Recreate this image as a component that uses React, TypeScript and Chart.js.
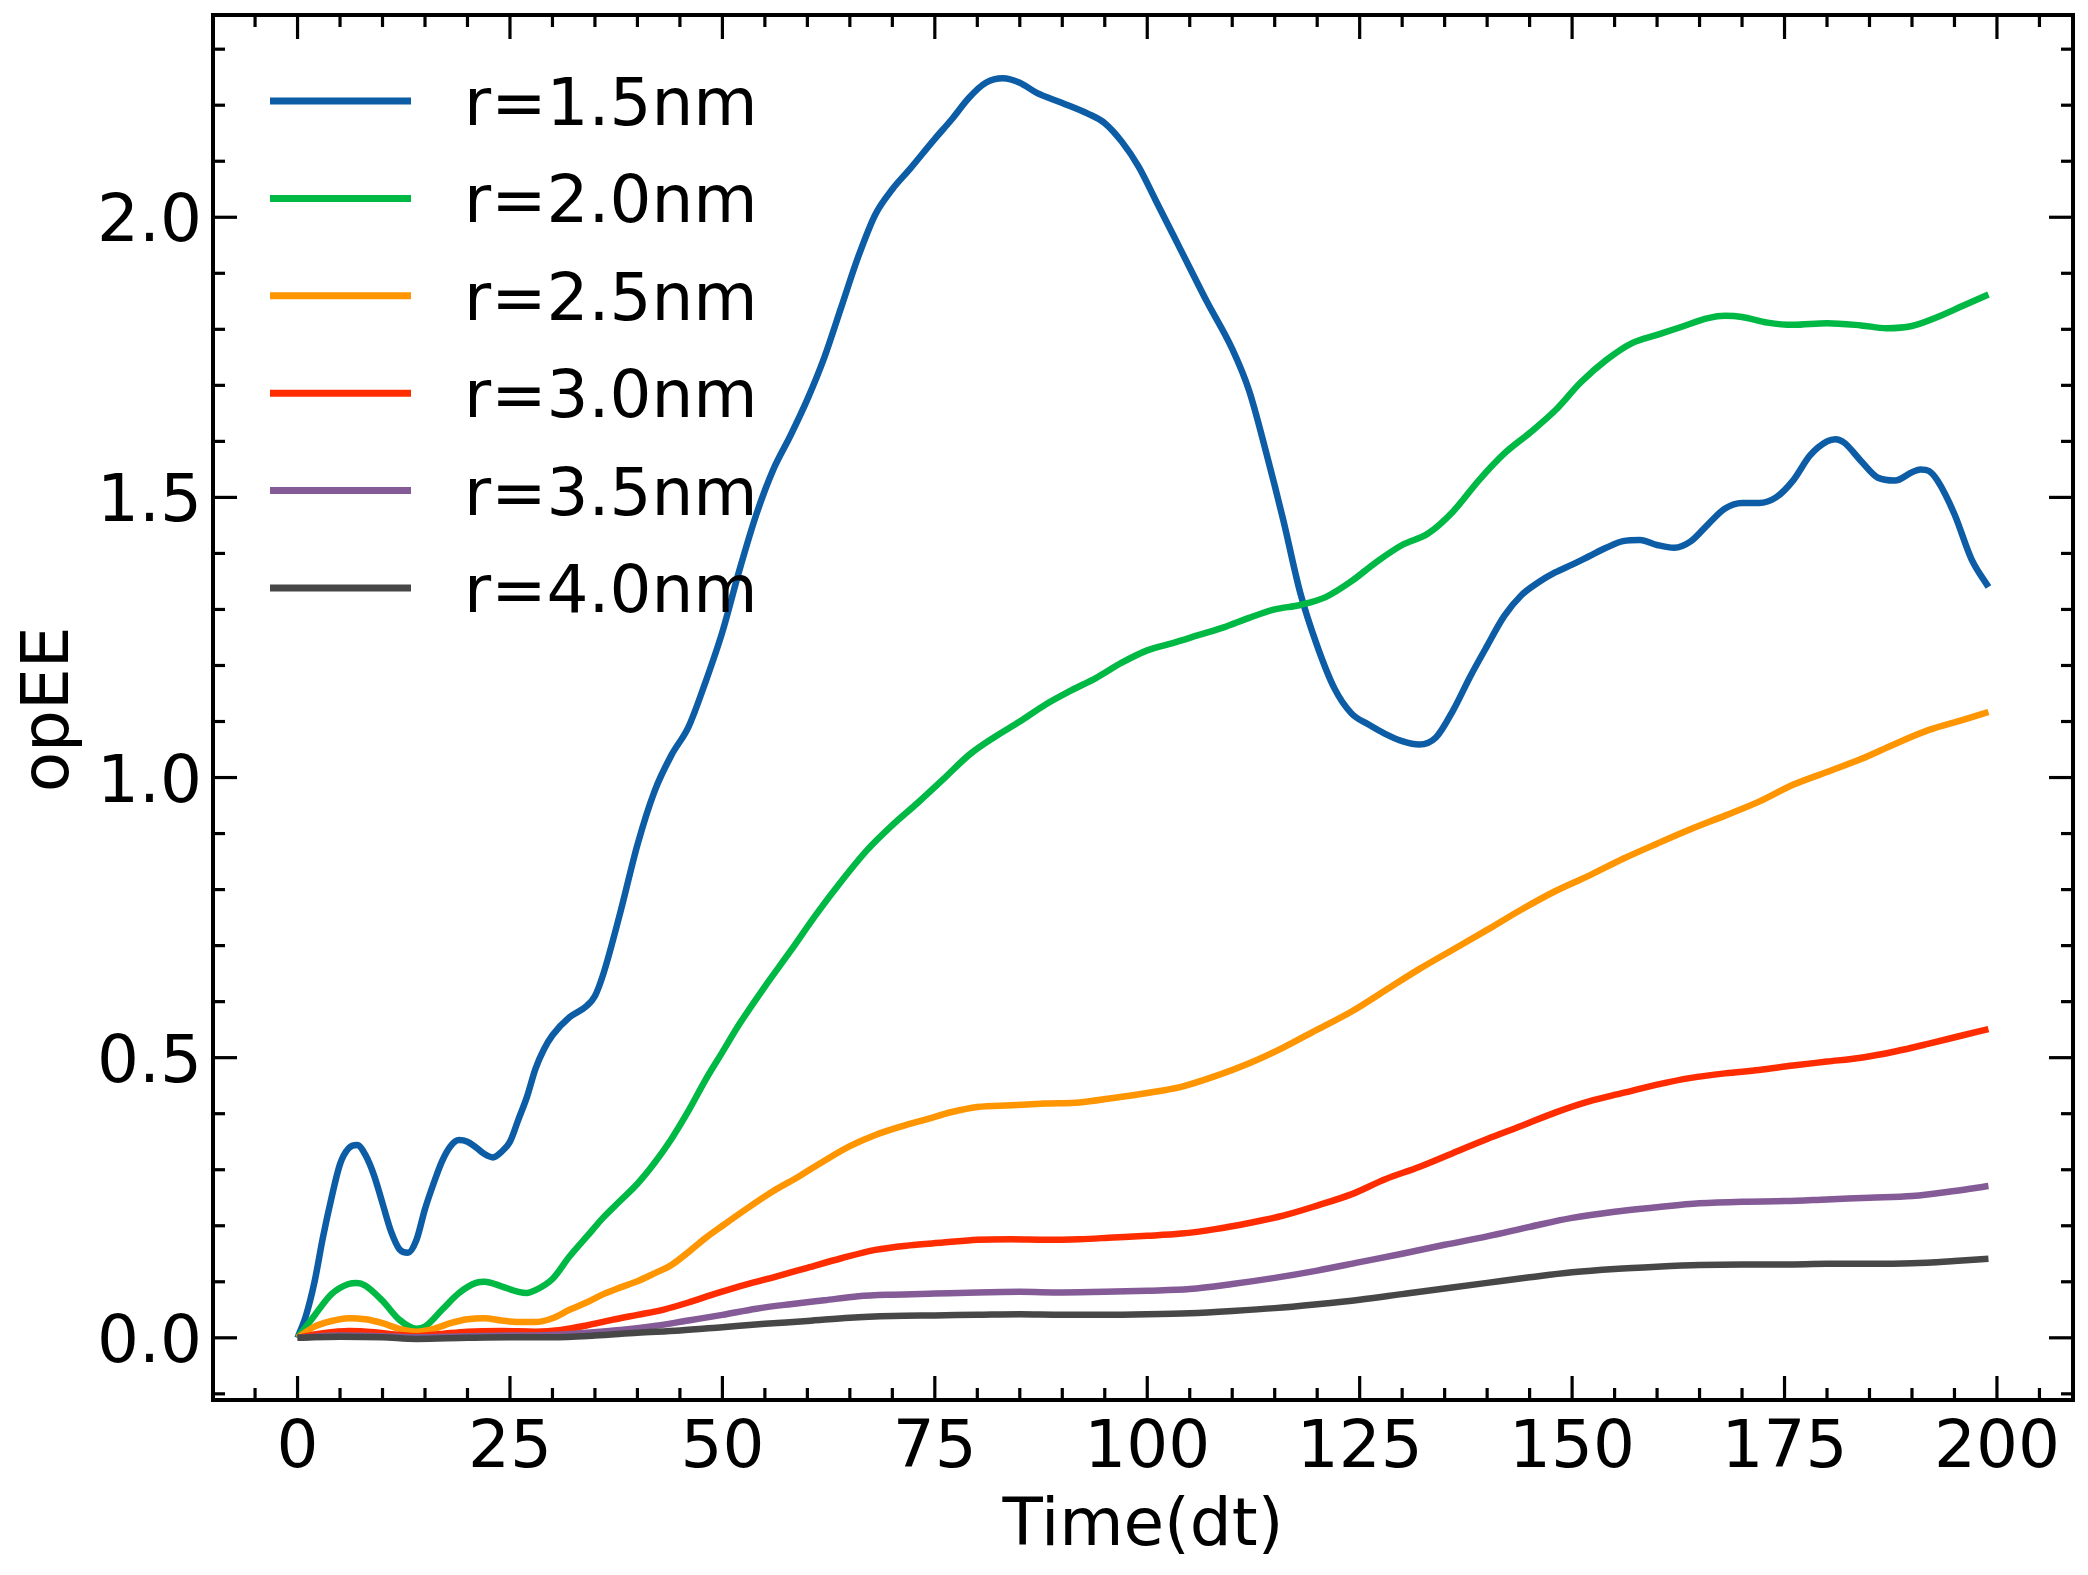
import React, { useEffect, useRef } from "react";
import { Chart, registerables } from "chart.js";

Chart.register(...registerables);

// ---------------- data ----------------
const seriesLabels = ["r=1.5nm", "r=2.0nm", "r=2.5nm", "r=3.0nm", "r=3.5nm", "r=4.0nm"];
const seriesColors = ["#0C5DA5", "#00B945", "#FF9500", "#FF2C00", "#845B97", "#474747"];

const timeR15 = [
  0, 1, 2, 3, 4, 5, 6, 7, 8, 9, 10, 11, 12, 13, 14, 15, 16, 17, 18, 19, 20, 21, 22, 23, 24, 25, 26, 27, 28, 29, 30,
  32, 34, 35, 36, 38, 40, 42, 44, 46, 48, 50, 52, 54, 56, 58, 60, 62, 64, 66, 68, 70, 72, 75, 77, 79, 81, 83, 85,
  87, 90, 93, 95, 97, 99, 101, 103, 105, 107, 110, 112, 114, 116, 118, 120, 122, 124, 126, 128, 130, 132, 134,
  136, 138, 140, 142, 144, 146, 148, 150, 152, 154, 156, 158, 160, 162, 164, 166, 168, 170, 172, 174, 176, 178,
  180, 181, 182, 184, 186, 188, 190, 191, 192, 193, 195, 197, 199,
];
const opeeR15 = [
  0, 0.04, 0.1, 0.18, 0.25, 0.31, 0.338, 0.344, 0.326, 0.29, 0.24, 0.19, 0.158, 0.152, 0.175, 0.23, 0.275, 0.315,
  0.342, 0.353, 0.35, 0.34, 0.328, 0.322, 0.332, 0.35, 0.39, 0.43, 0.48, 0.515, 0.54,
  0.572, 0.592, 0.61, 0.65, 0.76, 0.88, 0.975, 1.04, 1.09, 1.17, 1.26, 1.37, 1.47, 1.55, 1.61, 1.675, 1.75, 1.84,
  1.93, 2.005, 2.05, 2.085, 2.14, 2.175, 2.213, 2.24, 2.248, 2.24,
  2.222, 2.204, 2.185, 2.168, 2.135, 2.09, 2.03, 1.97, 1.91, 1.85, 1.765, 1.69, 1.58, 1.46, 1.33, 1.235, 1.16,
  1.115, 1.095, 1.078, 1.065, 1.059, 1.072,
  1.12, 1.18, 1.235, 1.288, 1.325, 1.348, 1.366, 1.38, 1.395, 1.41, 1.422, 1.424, 1.415, 1.41, 1.422, 1.452,
  1.48, 1.49, 1.49, 1.5, 1.53, 1.575,
  1.6, 1.604, 1.598, 1.565, 1.535, 1.53, 1.545, 1.55, 1.547, 1.53, 1.47, 1.39, 1.34,
];

const timeR20 = [
  0, 2, 4, 6, 7, 8, 10, 12, 14, 15, 17, 19, 21, 22, 24, 26, 27, 28, 30, 32, 34, 36, 38, 40, 42, 44, 46, 48, 50,
  52, 55, 58, 61, 64, 67, 70, 73, 76, 79, 82, 85, 88, 91, 94, 97, 100, 103, 106, 109, 112, 115, 118, 121, 124,
  127, 130, 133, 136, 139, 142, 145, 148, 151, 154, 157, 160, 163, 166, 168, 170, 173, 176, 180, 184, 187, 190,
  193, 196, 199,
];
const opeeR20 = [
  0, 0.04, 0.078, 0.096, 0.098, 0.093, 0.066, 0.032, 0.016, 0.02, 0.05, 0.08, 0.098, 0.1, 0.092, 0.082, 0.08,
  0.085, 0.105, 0.145, 0.18, 0.215, 0.245, 0.275, 0.312, 0.355, 0.405, 0.46, 0.51,
  0.56, 0.627, 0.69, 0.755, 0.815, 0.87, 0.915, 0.955, 0.997, 1.04, 1.072, 1.1, 1.13, 1.155, 1.178, 1.205, 1.227,
  1.24, 1.254, 1.268, 1.285, 1.3, 1.308, 1.322, 1.35,
  1.385, 1.415, 1.435, 1.475, 1.53, 1.578, 1.615, 1.655, 1.705, 1.745, 1.775, 1.79, 1.805, 1.82, 1.824, 1.822,
  1.812, 1.808, 1.811, 1.807, 1.802, 1.806,
  1.822, 1.842, 1.862,
];

const timeR25 = [
  0, 2, 4, 6, 8, 10, 12, 14, 16, 18, 20, 22, 24, 26, 28, 30, 32, 34, 36, 38, 40, 42, 44, 46, 48, 50, 53, 56, 59,
  62, 65, 68, 71, 74, 77, 80, 84, 88, 92, 96, 100, 104, 108, 112, 116, 120, 124, 128, 132, 136, 140, 144, 148,
  152, 156, 160, 164, 168, 172, 176, 180, 184, 188, 192, 196, 199,
];
const opeeR25 = [
  0, 0.02, 0.03, 0.035, 0.033, 0.026, 0.016, 0.011, 0.016, 0.026, 0.033, 0.035, 0.031, 0.028, 0.028, 0.035, 0.05,
  0.063, 0.078, 0.09, 0.101, 0.115, 0.13, 0.153, 0.178, 0.2, 0.232, 0.262, 0.288,
  0.316, 0.342, 0.362, 0.377, 0.39, 0.403, 0.412, 0.415, 0.418, 0.42, 0.428, 0.437, 0.448, 0.467, 0.49, 0.518,
  0.55, 0.582, 0.62, 0.658, 0.693, 0.728, 0.764, 0.797,
  0.825, 0.855, 0.882, 0.908, 0.932, 0.957, 0.987, 1.01, 1.033, 1.06, 1.085, 1.103, 1.117,
];

const timeR30 = [
  0, 3, 6, 9, 12, 14, 17, 20, 24, 28, 31, 34, 37, 40, 43, 46, 49, 52, 56, 60, 64, 68, 72, 76, 80, 84, 88, 92, 96,
  100, 104, 108, 112, 116, 120, 124, 128, 132, 136, 140, 144, 148, 152, 156, 160, 164, 168, 172, 176, 180, 184,
  188, 192, 196, 199,
];
const opeeR30 = [
  0, 0.008, 0.012, 0.01, 0.005, 0.003, 0.007, 0.011, 0.012, 0.011, 0.014, 0.022, 0.032, 0.041, 0.05, 0.063,
  0.078, 0.092, 0.108, 0.125, 0.142, 0.157, 0.165, 0.17, 0.175, 0.176, 0.175, 0.176, 0.179,
  0.182, 0.186, 0.194, 0.205, 0.218, 0.236, 0.256, 0.283, 0.305, 0.33, 0.355, 0.378, 0.402, 0.422, 0.437, 0.452,
  0.464, 0.472, 0.478, 0.486, 0.493, 0.5,
  0.511, 0.525, 0.54, 0.551,
];

const timeR35 = [
  0, 5, 10, 14, 20, 25, 30, 34, 38, 42, 46, 50, 54, 58, 62, 66, 70, 75, 80, 85, 90, 95, 100, 105, 110, 115, 120,
  125, 130, 135, 140, 145, 150, 155, 160, 165, 170, 175, 180, 185, 190, 195, 199,
];
const opeeR35 = [
  0, 0.004, 0.003, 0.001, 0.003, 0.004, 0.005, 0.009, 0.014, 0.021, 0.031, 0.041, 0.052, 0.06, 0.067, 0.074,
  0.077, 0.079, 0.081, 0.082, 0.081, 0.082, 0.084, 0.087, 0.096, 0.107, 0.12,
  0.135, 0.15, 0.166, 0.181, 0.198, 0.214, 0.225, 0.233, 0.24, 0.243, 0.244, 0.247, 0.25, 0.253, 0.262, 0.271,
];

const timeR40 = [
  0, 5, 10, 14, 20, 25, 30, 35, 40, 45, 50, 55, 60, 65, 70, 75, 80, 85, 90, 95, 100, 105, 110, 115, 120, 125, 130,
  135, 140, 145, 150, 155, 160, 165, 170, 175, 180, 185, 190, 195, 199,
];
const opeeR40 = [
  0, 0.002, 0.001, -0.002, 0.0, 0.001, 0.001, 0.004, 0.009, 0.013, 0.019, 0.025, 0.03, 0.036, 0.039, 0.04, 0.041,
  0.042, 0.041, 0.041, 0.042, 0.044, 0.048, 0.053, 0.06, 0.068, 0.078,
  0.088, 0.098, 0.108, 0.117, 0.123, 0.127, 0.13, 0.131, 0.131, 0.132, 0.132, 0.133, 0.137, 0.141,
];

const seriesTimes = [timeR15, timeR20, timeR25, timeR30, timeR35, timeR40];
const seriesValues = [opeeR15, opeeR20, opeeR25, opeeR30, opeeR35, opeeR40];

const xTickValues = [0, 25, 50, 75, 100, 125, 150, 175, 200];
const xTickLabels = ["0", "25", "50", "75", "100", "125", "150", "175", "200"];
const yTickValues = [0, 0.5, 1.0, 1.5, 2.0];
const yTickLabels = ["0.0", "0.5", "1.0", "1.5", "2.0"];
const xMinorStep = 5;
const yMinorStep = 0.1;
const xAxisTitle = "Time(dt)";
const yAxisTitle = "opEE";

const X_MIN = -9.95;
const X_MAX = 208.95;
const Y_MIN = -0.111;
const Y_MAX = 2.361;

// ---------------- drawing helpers ----------------
const FONT = "66px 'DejaVu Sans', 'Liberation Sans', sans-serif";

const mplAxesPlugin = {
  id: "mplAxes",
  beforeDraw(chart: any) {
    const { ctx, width, height } = chart;
    ctx.save();
    ctx.fillStyle = "#ffffff";
    ctx.fillRect(0, 0, width, height);
    ctx.restore();
  },
  afterDraw(chart: any) {
    const { ctx, chartArea: a } = chart;
    const xs = chart.scales.x;
    const ys = chart.scales.y;
    ctx.save();

    // ticks (inward, all four sides)
    ctx.strokeStyle = "#000000";
    ctx.lineWidth = 3.2;
    ctx.lineCap = "butt";
    const majorLen = 24;
    const minorLen = 12;
    const line = (x1: number, y1: number, x2: number, y2: number) => {
      ctx.beginPath();
      ctx.moveTo(x1, y1);
      ctx.lineTo(x2, y2);
      ctx.stroke();
    };
    const xTick = (v: number, len: number) => {
      const p = xs.getPixelForValue(v);
      if (p < a.left + 1 || p > a.right - 1) return;
      line(p, a.bottom, p, a.bottom - len);
      line(p, a.top, p, a.top + len);
    };
    const yTick = (v: number, len: number) => {
      const p = ys.getPixelForValue(v);
      if (p < a.top + 1 || p > a.bottom - 1) return;
      line(a.left, p, a.left + len, p);
      line(a.right, p, a.right - len, p);
    };
    for (let k = Math.ceil(X_MIN / xMinorStep); k <= Math.floor(X_MAX / xMinorStep); k++) {
      const v = k * xMinorStep;
      if (xTickValues.indexOf(v) >= 0) continue;
      xTick(v, minorLen);
    }
    xTickValues.forEach((v) => xTick(v, majorLen));
    for (let k = Math.ceil(Y_MIN / yMinorStep); k <= Math.floor(Y_MAX / yMinorStep); k++) {
      const v = Math.round(k * yMinorStep * 10) / 10;
      if (yTickValues.some((t) => Math.abs(t - v) < 1e-9)) continue;
      yTick(v, minorLen);
    }
    yTickValues.forEach((v) => yTick(v, majorLen));

    // frame
    ctx.lineWidth = 4;
    ctx.strokeRect(a.left, a.top, a.right - a.left, a.bottom - a.top);

    // tick labels
    ctx.fillStyle = "#000000";
    ctx.font = FONT;
    ctx.textAlign = "center";
    ctx.textBaseline = "alphabetic";
    xTickValues.forEach((v, i) => {
      ctx.fillText(xTickLabels[i], xs.getPixelForValue(v), a.bottom + 67);
    });
    ctx.textAlign = "right";
    yTickValues.forEach((v, i) => {
      ctx.fillText(yTickLabels[i], a.left - 11, ys.getPixelForValue(v) + 24);
    });

    // axis titles
    ctx.textAlign = "center";
    ctx.fillText(xAxisTitle, (a.left + a.right) / 2, a.bottom + 145);
    ctx.save();
    ctx.translate(68, (a.top + a.bottom) / 2 + 2);
    ctx.rotate(-Math.PI / 2);
    ctx.fillText(yAxisTitle, 0, 0);
    ctx.restore();

    // legend
    ctx.textAlign = "left";
    seriesLabels.forEach((lab, i) => {
      const cy = a.top + 86 + i * 97.4;
      ctx.strokeStyle = seriesColors[i];
      ctx.lineWidth = 7;
      line(a.left + 57, cy, a.left + 198, cy);
      ctx.fillStyle = "#000000";
      ctx.fillText(lab, a.left + 251, cy + 24);
    });

    ctx.restore();
  },
};

export default function App() {
  const canvasRef = useRef<HTMLCanvasElement | null>(null);

  useEffect(() => {
    const canvas = canvasRef.current;
    if (!canvas) return;
    const datasets = seriesLabels.map((label, i) => ({
      label,
      data: seriesTimes[i].map((t, j) => ({ x: t, y: seriesValues[i][j] })),
      borderColor: seriesColors[i],
      backgroundColor: seriesColors[i],
      borderWidth: 6.5,
      pointRadius: 0,
      pointHoverRadius: 0,
      fill: false,
      tension: 0.4,
      cubicInterpolationMode: "monotone" as const,
      order: seriesLabels.length - i,
    }));
    const chart = new Chart(canvas, {
      type: "line",
      data: { datasets },
      options: {
        animation: false,
        responsive: false,
        maintainAspectRatio: false,
        events: [],
        layout: { padding: { left: 213, top: 15, right: 15, bottom: 175 } },
        plugins: {
          legend: { display: false },
          tooltip: { enabled: false },
          title: { display: false },
        },
        scales: {
          x: { type: "linear", min: X_MIN, max: X_MAX, display: false },
          y: { type: "linear", min: Y_MIN, max: Y_MAX, display: false },
        },
      },
      plugins: [mplAxesPlugin],
    });
    return () => chart.destroy();
  }, []);

  return (
    <div style={{ position: "absolute", left: 0, top: 0, width: 2088, height: 1575, background: "#fff" }}>
      <canvas ref={canvasRef} width={2088} height={1575} style={{ width: 2088, height: 1575, display: "block" }} />
    </div>
  );
}
